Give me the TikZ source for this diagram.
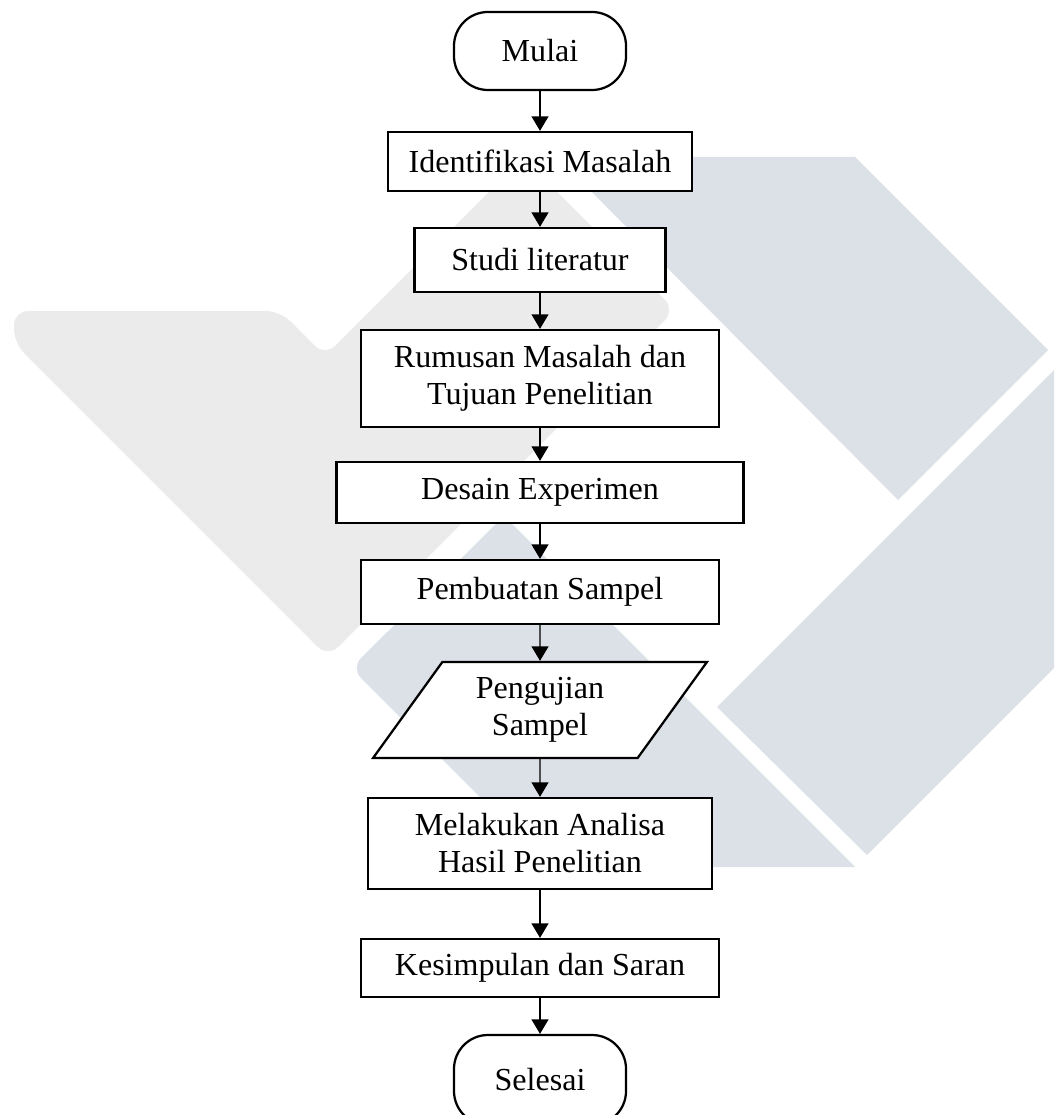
\documentclass[tikz,border=0pt]{standalone}
\usepackage{fontspec}
\setmainfont{Liberation Serif}
\usetikzlibrary{arrows.meta, positioning, shapes.geometric}
\definecolor{markgray}{HTML}{EBEBEB}
\definecolor{markblue}{HTML}{DCE1E8}

\begin{document}
\begin{tikzpicture}[
	x=0.025cm, y=-0.025cm,
	every node/.style={font=\fontsize{22.8}{26.3}\selectfont},
	arrow/.style={-{Triangle[length=3.6mm, width=4.2mm]}, line width=0.95pt},
	process/.style={draw, fill=white, line width=1.6pt, rectangle, inner sep=0pt, align=center},
	terminal/.style={process, rounded corners=8.5mm, minimum width=4.3cm},
	io/.style={draw, fill=white, line width=1.6pt, trapezium, trapezium left angle=55, trapezium right angle=125, trapezium stretches=true, inner sep=0pt, align=center}
	]
	
	\useasboundingbox (0,0) rectangle (1054,1115);
	\clip (0,0) rectangle (1054,1115);
	
	% === BACKGROUND MARK ===
	\fill[markgray, rounded corners=3.5mm] (14,311) -- (280,311) -- (325,356) -- (523,158) -- (675,310) -- (328,657) -- (14,343) -- cycle;
	\fill[markblue] (557,157) -- (855,157) -- (1048,350) -- (898,500) -- cycle;
	\fill[markblue] (717,707) -- (1110,314) -- (1110,612) -- (867,855) -- cycle;
	\fill[markblue] (504,516) -- (855,867) -- (550,867) [rounded corners=3.5mm] -- (351,668) -- (504,516) [sharp corners] -- cycle;
	
	% === FLOW STEPS ===
	\node[terminal, minimum height=1.95cm] (mulai) at (540, 51) {Mulai};
	\node[process, minimum width=7.6cm, minimum height=1.475cm] (identifikasi) at (540, 161.5) {Identifikasi Masalah};
	\node[process, minimum width=6.275cm, minimum height=1.6cm] (studi) at (540, 260) {Studi literatur};
	\node[process, minimum width=8.95cm, minimum height=2.425cm] (rumusan) at (540, 378.5) {Rumusan Masalah dan\\Tujuan Penelitian};
	\node[process, minimum width=10.175cm, minimum height=1.525cm] (desain) at (540, 492.5) {Desain Experimen};
	\node[process, minimum width=8.95cm, minimum height=1.6cm] (pembuatan) at (540, 592) {Pembuatan Sampel};
	\node[io, minimum width=8.35cm, minimum height=2.4cm] (pengujian) at (540, 710) {Pengujian\\Sampel};
	\node[process, minimum width=8.6cm, minimum height=2.275cm] (analisa) at (540, 843.5) {Melakukan Analisa\\Hasil Penelitian};
	\node[process, minimum width=8.95cm, minimum height=1.45cm] (kesimpulan) at (540, 968) {Kesimpulan dan Saran};
	\node[terminal, minimum height=2.25cm] (selesai) at (540, 1080) {Selesai};
	
	% === ARROWS ===
	\foreach \a/\b in {mulai/identifikasi, identifikasi/studi, studi/rumusan, rumusan/desain,
		desain/pembuatan, pembuatan/pengujian, pengujian/analisa, analisa/kesimpulan, kesimpulan/selesai} {
		\draw[arrow] (\a) -- (\b);
	}
	
\end{tikzpicture}
\end{document}
